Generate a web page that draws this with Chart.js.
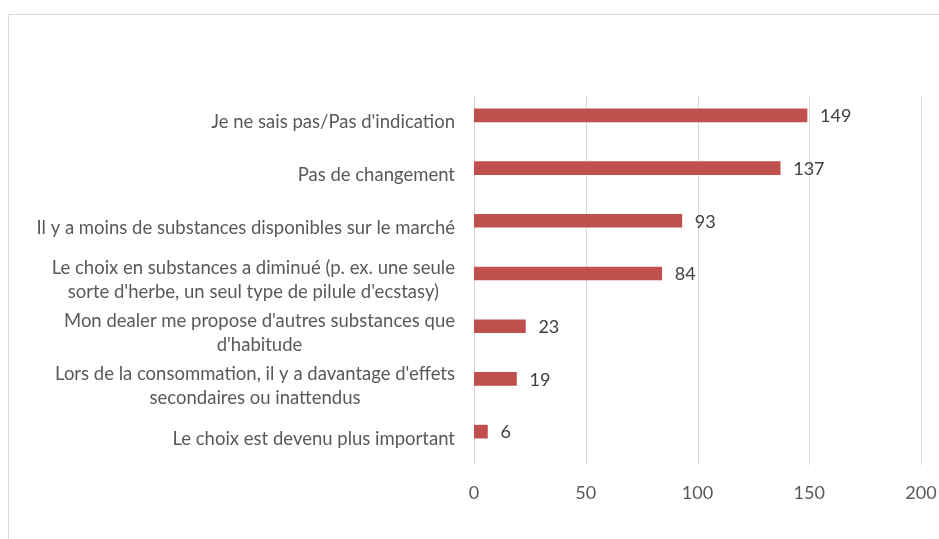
<!DOCTYPE html>
<html><head><meta charset="utf-8">
<script src="https://cdn.jsdelivr.net/npm/chart.js@4.4.0/dist/chart.umd.min.js"></script>
<style>
html,body{margin:0;padding:0;background:#fff;overflow:hidden;width:939px;height:539px;}
#frame{position:absolute;left:8px;top:14px;width:1000px;height:600px;border:1px solid #d9d9d9;box-sizing:border-box;}
#wrap{position:absolute;left:0;top:0;width:939px;height:539px;}
</style></head><body>
<div id="frame"></div>
<div id="wrap"><canvas id="c" width="939" height="539"></canvas></div>
<script>
const categories = [
  "Je ne sais pas/Pas d'indication",
  "Pas de changement",
  "Il y a moins de substances disponibles sur le marché",
  ["Le choix en substances a diminué (p. ex. une seule", "sorte d'herbe, un seul type de pilule d'ecstasy)"],
  ["Mon dealer me propose d'autres substances que", "d'habitude"],
  ["Lors de la consommation, il y a davantage d'effets", "secondaires ou inattendus"],
  "Le choix est devenu plus important"
];
const values = [149, 137, 93, 84, 23, 19, 6];
const xTicks = [0, 50, 100, 150, 200];

const FONT = "Lato, 'Liberation Sans', sans-serif";
const SHIFT = 7; // Excel draws bars slightly above the category centre

const valueLabels = {
  id: 'valueLabels',
  afterDatasetsDraw(chart) {
    const ctx = chart.ctx;
    const meta = chart.getDatasetMeta(0);
    ctx.save();
    ctx.font = "18px " + FONT;
    ctx.fillStyle = "#404040";
    ctx.textAlign = "left";
    ctx.textBaseline = "middle";
    meta.data.forEach((bar, i) => {
      ctx.fillText(String(values[i]), bar.x + 13, bar.y + 1);
    });
    ctx.restore();
  }
};

const gridLines = {
  id: 'gridLines',
  beforeDatasetsDraw(chart) {
    const ctx = chart.ctx;
    const xs = chart.scales.x;
    const a = chart.chartArea;
    ctx.save();
    ctx.strokeStyle = '#d9d9d9';
    ctx.lineWidth = 1;
    xTicks.forEach(v => {
      const x = Math.round(xs.getPixelForValue(v)) + 0.5;
      ctx.beginPath();
      ctx.moveTo(x, a.top + SHIFT);
      ctx.lineTo(x, a.bottom + SHIFT);
      ctx.stroke();
    });
    ctx.restore();
  }
};

const categoryLabels = {
  id: 'categoryLabels',
  afterDraw(chart) {
    const ctx = chart.ctx;
    const yScale = chart.scales.y;
    const right = chart.chartArea.left - 19;
    const lh = 24;
    ctx.save();
    ctx.font = "18.5px " + FONT;
    ctx.fillStyle = "#595959";
    ctx.textBaseline = "middle";
    ctx.textAlign = "center";
    categories.forEach((lab, i) => {
      const lines = Array.isArray(lab) ? lab : [lab];
      const maxW = Math.max(...lines.map(l => ctx.measureText(l).width));
      const cx = right - maxW / 2;
      const cy = yScale.getPixelForValue(i) + SHIFT;
      lines.forEach((l, k) => {
        ctx.fillText(l, cx, cy + (k - (lines.length - 1) / 2) * lh);
      });
    });
    ctx.restore();
  }
};

new Chart(document.getElementById('c'), {
  type: 'bar',
  data: {
    labels: categories,
    datasets: [{
      data: values,
      backgroundColor: '#C0504D',
      borderWidth: 0,
      barThickness: 13
    }]
  },
  options: {
    indexAxis: 'y',
    responsive: false,
    animation: false,
    layout: { padding: { top: 89, right: 18, left: 0, bottom: 0 } },
    plugins: { legend: { display: false }, tooltip: { enabled: false } },
    scales: {
      x: {
        min: 0, max: 200,
        afterBuildTicks(scale) { scale.ticks = xTicks.map(v => ({ value: v })); },
        grid: { display: false, drawTicks: false },
        border: { display: false },
        ticks: { color: '#595959', font: { family: FONT, size: 18 }, padding: 24 },
        afterFit(scale) { scale.height = 81; scale.paddingLeft = 0; scale.paddingRight = 0; }
      },
      y: {
        grid: { display: false, drawTicks: false },
        border: { display: false },
        ticks: { display: false },
        afterFit(scale) { scale.width = 474; scale.paddingTop = 0; scale.paddingBottom = 0; }
      }
    }
  },
  plugins: [gridLines, valueLabels, categoryLabels]
});
</script>
</body></html>
